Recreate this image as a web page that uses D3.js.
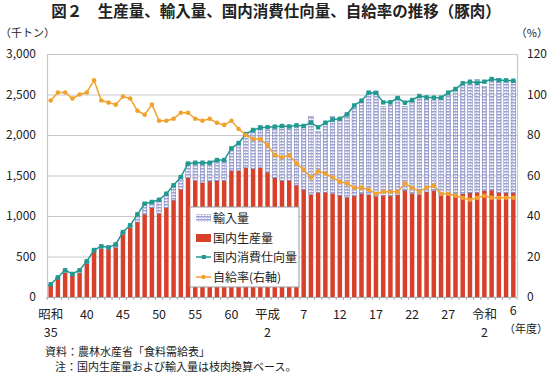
<!DOCTYPE html>
<html>
<head>
<meta charset="utf-8">
<script src="https://cdn.jsdelivr.net/npm/d3@7"></script>
<style>
  body { margin: 0; background: #fff; }
  svg text { font-family: "Noto Sans CJK JP", "Noto Sans", sans-serif; fill: #222; }
</style>
</head>
<body>
<svg id="chart" width="550" height="373"></svg>
<script>
// fiscal years 昭和35 (1960) .. 令和6 (2024)
var years = d3.range(1960, 2025);

// 国内生産量 (千トン)
var production = [140,225,300,260,295,415,560,596,589,610,
  770,856,925,1020,1100,1030,1100,1195,1330,1470,
  1435,1412,1430,1432,1435,1562,1560,1595,1580,1597,
  1540,1470,1436,1440,1380,1322,1264,1288,1292,1276,
  1256,1231,1246,1274,1263,1242,1249,1246,1260,1318,
  1277,1267,1297,1311,1250,1268,1277,1272,1284,1290,
  1310,1318,1287,1283,1285];

// 輸入量 (千トン)
var imports = [17,18,30,25,35,26,20,30,24,40,
  32,29,96,132,73,171,175,184,151,178,
  223,246,228,259,256,273,335,417,482,520,
  520,633,675,665,739,772,964,754,850,952,
  952,1034,1101,1145,1267,1298,1100,1126,1207,1034,
  1143,1198,1141,1113,1216,1223,1290,1357,1344,1397,
  1292,1357,1407,1390,1385];

// 国内消費仕向量 (千トン)
var consumption = [157,243,330,285,330,441,580,626,613,650,
  802,885,1021,1152,1173,1201,1275,1379,1481,1648,
  1658,1658,1658,1691,1691,1835,1900,2012,2062,2090,
  2095,2103,2111,2105,2119,2111,2152,2095,2152,2190,
  2200,2255,2365,2424,2523,2520,2403,2405,2457,2399,
  2432,2481,2465,2461,2461,2523,2568,2638,2658,2646,
  2658,2691,2675,2675,2670];

// 自給率 (%)
var selfRate = [97,101,101,98,100,101,107,97,96,95,
  99,98,92,90,95,87,87,88,91,91,
  88,87,88,86,85,87,83,80,78,78,
  75,70,69,70,66,63,59,62,61,59,
  57,56,54,54,53,51,52,52,52,56,
  54,52,54,55,51,51,50,49,48,49,
  50,49,49,49,49];

var leftTicks = [0,500,1000,1500,2000,2500,3000];
var rightTicks = [0,20,40,60,80,100,120];
var xTickYears = [1960,1965,1970,1975,1980,1985,1990,1995,2000,2005,2010,2015,2020,2024];
var xTickLine1 = ["昭和","40","45","50","55","60","平成","7","12","17","22","27","令和","6"];
var xTickLine2 = ["35","","","","","","2","","","","","","2",""];

var legendItems = ["輸入量","国内生産量","国内消費仕向量","自給率(右軸)"];

var colRed = "#d8402b", colTeal = "#1f9a90", colOrange = "#f2a22c";

var svg = d3.select("#chart");
var mLeft = 47, mRight = 517, mTop = 54, mBottom = 297;

var x = d3.scaleBand().domain(years).range([mLeft, mRight]).paddingInner(0.38).paddingOuter(0.2);
var y = d3.scaleLinear().domain([0, 3000]).range([mBottom, mTop]);
var y2 = d3.scaleLinear().domain([0, 120]).range([mBottom, mTop]);
var cx = function(yr){ return x(yr) + x.bandwidth()/2; };

// hatch pattern for imports
var defs = svg.append("defs");
var pat = defs.append("pattern").attr("id","hatch").attr("patternUnits","userSpaceOnUse")
  .attr("width",3).attr("height",3);
pat.append("rect").attr("width",3).attr("height",3).attr("fill","#c6c9e8");
pat.append("rect").attr("x",0).attr("y",2).attr("width",2).attr("height",1).attr("fill","#ffffff");
pat.append("rect").attr("x",0).attr("y",0).attr("width",3).attr("height",1).attr("fill","#9ea3d4");

// title
svg.append("text").attr("x", 276).attr("y", 17).attr("text-anchor","middle")
  .style("font-size","15.5px").style("font-weight","bold")
  .text("図２　生産量、輸入量、国内消費仕向量、自給率の推移（豚肉）");

svg.append("text").attr("x", 0).attr("y", 37).style("font-size","11px").text("（千トン）");
svg.append("text").attr("x", 548).attr("y", 37).attr("text-anchor","end").style("font-size","11px").text("（%）");

// grid
svg.append("g").selectAll("line").data(leftTicks.slice(1)).enter().append("line")
  .attr("x1", mLeft).attr("x2", mRight)
  .attr("y1", function(d){ return y(d) + 0.5; }).attr("y2", function(d){ return y(d) + 0.5; })
  .attr("stroke", "#c8c8c8").attr("stroke-width", 1.2);

// axis lines
svg.append("line").attr("x1", mLeft+0.5).attr("x2", mLeft+0.5).attr("y1", mTop).attr("y2", mBottom)
  .attr("stroke","#c8c8c8").attr("stroke-width",1.2);
svg.append("line").attr("x1", mRight+0.5).attr("x2", mRight+0.5).attr("y1", mTop).attr("y2", mBottom)
  .attr("stroke","#c8c8c8").attr("stroke-width",1.2);

// tick labels
svg.append("g").selectAll("text").data(leftTicks).enter().append("text")
  .attr("x", 36).attr("y", function(d){ return y(d) + 4; })
  .attr("text-anchor","end").style("font-size","12px")
  .text(function(d){ return d3.format(",")(d); });
svg.append("g").selectAll("text").data(rightTicks).enter().append("text")
  .attr("x", 527).attr("y", function(d){ return y2(d) + 4; })
  .style("font-size","12px").text(function(d){ return d; });

// bars: production
svg.append("g").selectAll("rect").data(years).enter().append("rect")
  .attr("x", function(d){ return x(d); })
  .attr("width", x.bandwidth())
  .attr("y", function(d,i){ return y(production[i]); })
  .attr("height", function(d,i){ return y(0) - y(production[i]); })
  .attr("fill", colRed);

// bars: imports stacked
svg.append("g").selectAll("rect").data(years).enter().append("rect")
  .attr("x", function(d){ return x(d); })
  .attr("width", x.bandwidth())
  .attr("y", function(d,i){ return y(production[i] + imports[i]); })
  .attr("height", function(d,i){ return y(production[i]) - y(production[i] + imports[i]); })
  .attr("fill", "url(#hatch)")
  .attr("stroke", "#5a5f9e").attr("stroke-width", 0.4);

// bottom axis with small ticks
svg.append("line").attr("x1", mLeft).attr("x2", mRight).attr("y1", mBottom+0.5).attr("y2", mBottom+0.5)
  .attr("stroke","#aaaaaa");
svg.append("g").selectAll("line").data(years.concat([2025])).enter().append("line")
  .attr("x1", function(d,i){ return mLeft + i*(mRight-mLeft)/years.length; })
  .attr("x2", function(d,i){ return mLeft + i*(mRight-mLeft)/years.length; })
  .attr("y1", mBottom).attr("y2", mBottom+3).attr("stroke","#aaaaaa");

// consumption line
var lineC = d3.line().x(function(d){ return cx(d); }).y(function(d,i){ return y(consumption[i]); });
svg.append("path").datum(years).attr("d", lineC).attr("fill","none")
  .attr("stroke", colTeal).attr("stroke-width", 1.5);
svg.append("g").selectAll("rect").data(years).enter().append("rect")
  .attr("x", function(d){ return cx(d) - 2.2; })
  .attr("y", function(d,i){ return y(consumption[i]) - 2.2; })
  .attr("width", 4.4).attr("height", 4.4).attr("fill", colTeal);

// self-sufficiency line
var lineR = d3.line().x(function(d){ return cx(d); }).y(function(d,i){ return y2(selfRate[i]); });
svg.append("path").datum(years).attr("d", lineR).attr("fill","none")
  .attr("stroke", colOrange).attr("stroke-width", 1.5);
svg.append("g").selectAll("circle").data(years).enter().append("circle")
  .attr("cx", function(d){ return cx(d); })
  .attr("cy", function(d,i){ return y2(selfRate[i]); })
  .attr("r", 2.3).attr("fill", colOrange);

// x labels (last one, 6, sits a little higher)
var xl = svg.append("g");
xl.selectAll("text.l1").data(xTickYears).enter().append("text").attr("class","l1")
  .attr("x", function(d){ return cx(d); })
  .attr("y", function(d,i){ return i === xTickYears.length - 1 ? 315 : 319; })
  .attr("text-anchor","middle").style("font-size","12.5px")
  .text(function(d,i){ return xTickLine1[i]; });
xl.selectAll("text.l2").data(xTickYears).enter().append("text").attr("class","l2")
  .attr("x", function(d){ return cx(d); }).attr("y", 337)
  .attr("text-anchor","middle").style("font-size","12.5px")
  .text(function(d,i){ return xTickLine2[i]; });
svg.append("text").attr("x", 548).attr("y", 333).attr("text-anchor","end")
  .style("font-size","11px").text("（年度）");

// legend
var lg = svg.append("g").attr("transform","translate(190,207)");
lg.append("rect").attr("width",109).attr("height",80).attr("fill","#fff").attr("stroke","#999");
lg.selectAll("text").data(legendItems).enter().append("text")
  .attr("x", 23).attr("y", function(d,i){ return 16 + i*19.5; })
  .style("font-size","12px").text(function(d){ return d; });
lg.append("rect").attr("x",6).attr("y",7).attr("width",15).attr("height",8).attr("fill","url(#hatch)");
lg.append("rect").attr("x",6).attr("y",27).attr("width",15).attr("height",8).attr("fill",colRed);
lg.append("line").attr("x1",6).attr("x2",21).attr("y1",50).attr("y2",50).attr("stroke",colTeal).attr("stroke-width",1.5);
lg.append("rect").attr("x",11.8).attr("y",48).attr("width",4).attr("height",4).attr("fill",colTeal);
lg.append("line").attr("x1",6).attr("x2",21).attr("y1",70).attr("y2",70).attr("stroke",colOrange).attr("stroke-width",1.5);
lg.append("circle").attr("cx",13.5).attr("cy",70).attr("r",2.2).attr("fill",colOrange);

// notes
svg.append("text").attr("x", 45).attr("y", 356).style("font-size","11px").text("資料：農林水産省「食料需給表」");
svg.append("text").attr("x", 55).attr("y", 371).style("font-size","11px").text("注：国内生産量および輸入量は枝肉換算ベース。");
</script>
</body>
</html>
